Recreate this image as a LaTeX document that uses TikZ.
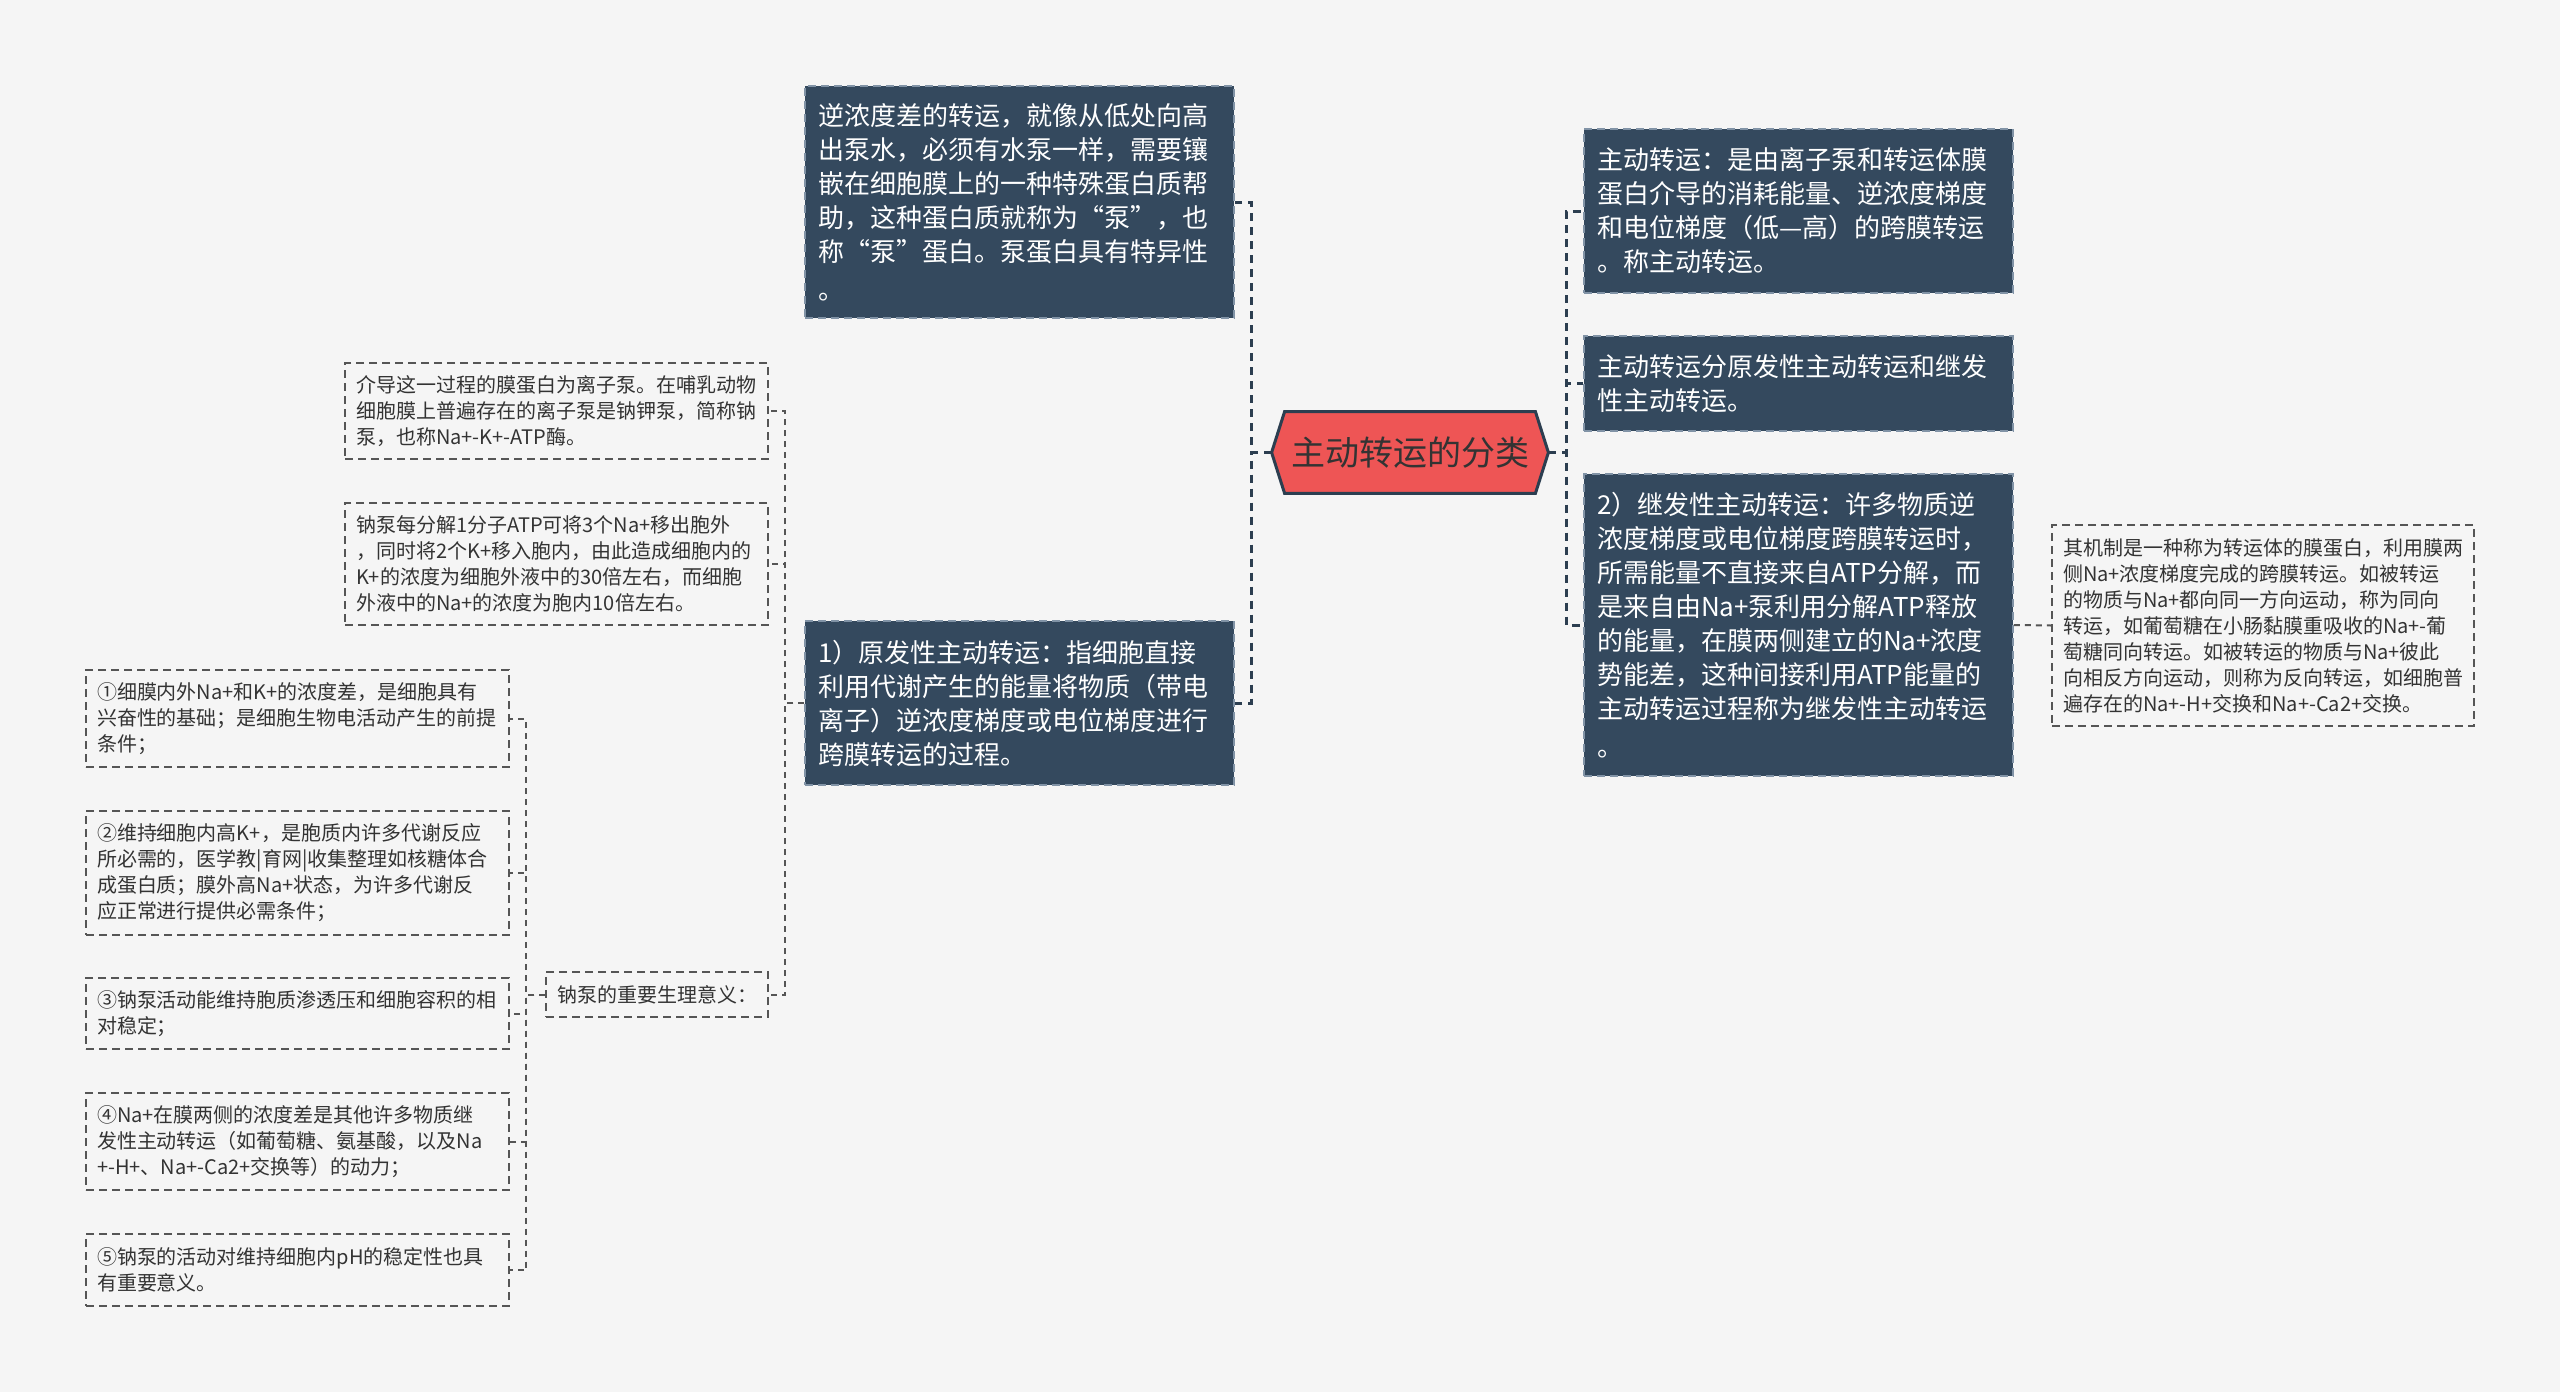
\documentclass[tikz,border=0pt]{standalone}
\usepackage{fontspec}
\setmainfont{Noto Sans CJK SC}
\usetikzlibrary{backgrounds}
\definecolor{bgcol}{HTML}{F5F5F5}
\definecolor{darkfill}{HTML}{34495E}
\definecolor{darkedge}{HTML}{8193A6}
\definecolor{rootfill}{HTML}{EE5555}
\definecolor{rootedge}{HTML}{2C3E50}
\definecolor{mainline}{HTML}{2C3E50}
\definecolor{subline}{HTML}{555555}
\definecolor{lighttext}{HTML}{333333}
\begin{document}
\begin{tikzpicture}[x=0.5pt,y=-0.5pt,
	darkbox/.style={draw=darkedge,dash pattern=on 4pt off 2.5pt,line width=0.8pt,fill=darkfill,text=white,
		font=\fontsize{13pt}{17pt}\selectfont,text width=201.5pt,align=left,inner xsep=6.5pt,inner ysep=0pt},
	lightbox/.style={draw=subline,dash pattern=on 4pt off 2.5pt,line width=0.8pt,fill=bgcol,text=lighttext,
		font=\fontsize{10pt}{13pt}\selectfont,align=left,inner xsep=5.5pt,inner ysep=0pt,text width=200.5pt},
	roottext/.style={inner sep=0pt,minimum width=138pt,minimum height=40.5pt,text=lighttext,
		font=\fontsize{17pt}{20pt}\selectfont},
	mainconn/.style={draw=mainline,line width=1.5pt,dash pattern=on 4pt off 3pt},
	subconn/.style={draw=subline,line width=1pt,dash pattern=on 3pt off 2.5pt}]

	% Hintergrund
	\begin{scope}[on background layer]
		\fill[bgcol] (0,0) rectangle (2560,1392);
	\end{scope}
	\useasboundingbox (0,0) rectangle (2560,1392);

	% Wurzel
	\node[roottext] (root) at (1410,452.5) {主动转运的分类};
	\begin{scope}[on background layer]
		\draw[fill=rootfill,draw=rootedge,line width=1.5pt] ([xshift=6.5pt]root.north west) -- ([xshift=-6.5pt]root.north east) -- (root.east)
			-- ([xshift=-6.5pt]root.south east) -- ([xshift=6.5pt]root.south west) -- (root.west) -- cycle;
	\end{scope}

	% linke Hauptknoten
	\node[darkbox,minimum height=116pt] (l1) at (1019.5,202) {逆浓度差的转运，就像从低处向高\\出泵水，必须有水泵一样，需要镶\\嵌在细胞膜上的一种特殊蛋白质帮\\助，这种蛋白质就称为“泵”，也\\称“泵”蛋白。泵蛋白具有特异性\\[2pt]。};
	\node[darkbox,minimum height=82pt] (l2) at (1019.5,703) {1）原发性主动转运：指细胞直接\\利用代谢产生的能量将物质（带电\\离子）逆浓度梯度或电位梯度进行\\跨膜转运的过程。};

	% rechte Hauptknoten
	\node[darkbox,minimum height=82pt] (r1) at (1798.5,211) {主动转运：是由离子泵和转运体膜\\蛋白介导的消耗能量、逆浓度梯度\\和电位梯度（低—高）的跨膜转运\\。称主动转运。};
	\node[darkbox,minimum height=47.5pt] (r2) at (1798.5,383.5) {主动转运分原发性主动转运和继发\\性主动转运。};
	\node[darkbox,minimum height=151pt] (r3) at (1798.5,625) {2）继发性主动转运：许多物质逆\\浓度梯度或电位梯度跨膜转运时，\\所需能量不直接来自ATP分解，而\\是来自由Na+泵利用分解ATP释放\\的能量，在膜两侧建立的Na+浓度\\势能差，这种间接利用ATP能量的\\主动转运过程称为继发性主动转运\\[2pt]。};
	\node[lightbox,text width=200pt,minimum height=100.5pt] (d1) at (2263,625.5) {其机制是一种称为转运体的膜蛋白，利用膜两\\侧Na+浓度梯度完成的跨膜转运。如被转运\\的物质与Na+都向同一方向运动，称为同向\\转运，如葡萄糖在小肠黏膜重吸收的Na+-葡\\萄糖同向转运。如被转运的物质与Na+彼此\\向相反方向运动，则称为反向转运，如细胞普\\遍存在的Na+-H+交换和Na+-Ca2+交换。};

	% Natriumpumpe
	\node[lightbox,minimum height=48pt] (a1) at (556.5,411) {介导这一过程的膜蛋白为离子泵。在哺乳动物\\细胞膜上普遍存在的离子泵是钠钾泵，简称钠\\泵，也称Na+-K+-ATP酶。};
	\node[lightbox,minimum height=61pt] (a2) at (556.5,564) {钠泵每分解1分子ATP可将3个Na+移出胞外\\，同时将2个K+移入胞内，由此造成细胞内的\\K+的浓度为细胞外液中的30倍左右，而细胞\\外液中的Na+的浓度为胞内10倍左右。};
	\node[lightbox,text width=100pt,minimum height=22.5pt] (a3) at (657,994.5) {钠泵的重要生理意义：};

	% Bedeutungen
	\node[lightbox,minimum height=48.5pt] (b1) at (297.5,718.5) {①细膜内外Na+和K+的浓度差，是细胞具有\\兴奋性的基础；是细胞生物电活动产生的前提\\条件；};
	\node[lightbox,minimum height=62pt] (b2) at (297.5,873) {②维持细胞内高K+，是胞质内许多代谢反应\\所必需的，医学教|育网|收集整理如核糖体合\\成蛋白质；膜外高Na+状态，为许多代谢反\\应正常进行提供必需条件；};
	\node[lightbox,minimum height=35.5pt] (b3) at (297.5,1013.5) {③钠泵活动能维持胞质渗透压和细胞容积的相\\对稳定；};
	\node[lightbox,minimum height=48.5pt] (b4) at (297.5,1141.5) {④Na+在膜两侧的浓度差是其他许多物质继\\发性主动转运（如葡萄糖、氨基酸，以及Na\\+-H+、Na+-Ca2+交换等）的动力；};
	\node[lightbox,minimum height=36pt] (b5) at (297.5,1270) {⑤钠泵的活动对维持细胞内pH的稳定性也具\\有重要意义。};

	% Verbindungen
	\draw[mainconn] (root.west) -- ++(-20,0) |- (l1.east);
	\draw[mainconn] (root.west) -- ++(-20,0) |- (l2.east);
	\draw[mainconn] (root.east) -- ++(18,0) |- (r1.west);
	\draw[mainconn] (root.east) -- ++(18,0) |- (r2.west);
	\draw[mainconn] (root.east) -- ++(18,0) |- (r3.west);
	\draw[subconn] (r3.east) -- (d1.west);
	\draw[subconn] (l2.west) -- ++(-19,0) |- (a1.east);
	\draw[subconn] (l2.west) -- ++(-19,0) |- (a2.east);
	\draw[subconn] (l2.west) -- ++(-19,0) |- (a3.east);
	\foreach \b in {b1,b2,b3,b4,b5}
		\draw[subconn] (a3.west) -- ++(-19,0) |- (\b.east);

\end{tikzpicture}
\end{document}
